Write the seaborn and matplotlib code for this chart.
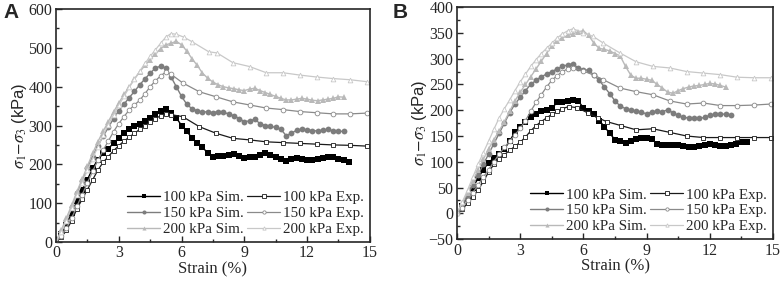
import matplotlib
matplotlib.use("Agg")
import matplotlib.pyplot as plt
from matplotlib.ticker import MultipleLocator
import seaborn as sns

# ---- panel A data (strain %, deviator stress kPa) ----
A_SIM_X = [0, 0.25, 0.5, 0.75, 1, 1.25, 1.5, 1.75, 2, 2.25, 2.5, 2.75, 3, 3.25, 3.5, 3.75,
           4, 4.25, 4.5, 4.75, 5, 5.25, 5.5, 5.75, 6, 6.25, 6.5, 6.75, 7, 7.25, 7.5, 7.75,
           8, 8.25, 8.5, 8.75, 9, 9.25, 9.5, 9.75, 10, 10.25, 10.5, 10.75, 11, 11.25, 11.5,
           11.75, 12, 12.25, 12.5, 12.75, 13, 13.25, 13.5, 13.75, 14]
A_SIM100 = [0, 20, 45, 75, 105, 135, 160, 190, 212, 228, 240, 255, 268, 282, 290, 298,
            305, 312, 320, 330, 338, 342, 333, 320, 300, 285, 268, 255, 245, 228, 220, 222,
            221, 223, 226, 222, 217, 220, 218, 224, 228, 225, 220, 214, 209, 213, 216,
            213, 210, 211, 213, 216, 219, 218, 214, 212, 207]
A_SIM150 = [0, 25, 55, 90, 125, 158, 190, 220, 248, 272, 295, 318, 338, 355, 372, 388,
            405, 420, 435, 448, 453, 448, 425, 400, 375, 355, 343, 338, 334, 336, 333, 336,
            334, 330, 325, 318, 310, 312, 316, 305, 300, 298, 295, 290, 274, 280, 288,
            290, 289, 287, 286, 288, 290, 286, 285, 285]
A_SIM200 = [0, 30, 62, 95, 130, 162, 195, 228, 258, 285, 310, 335, 358, 380, 400, 420,
            438, 455, 470, 485, 498, 508, 512, 517, 508, 492, 472, 455, 435, 422, 412, 405,
            400, 397, 395, 392, 390, 394, 396, 390, 385, 380, 375, 370, 366, 366, 368,
            370, 368, 365, 364, 366, 368, 370, 374, 373]

A_EXP100_X = [0, 0.25, 0.5, 0.75, 1, 1.25, 1.5, 1.75, 2, 2.25, 2.5, 2.75, 3, 3.25, 3.5, 3.75,
              4, 4.25, 4.5, 4.75, 5, 5.25, 5.5, 6.05, 6.85, 7.65, 8.45, 9.25, 10.05, 10.85,
              11.65, 12.45, 13.25, 14.05, 14.85]
A_EXP100 = [0, 12, 30, 55, 85, 110, 135, 160, 185, 205, 220, 235, 248, 260, 270, 280,
            290, 300, 310, 318, 325, 330, 328, 323, 297, 280, 267, 263, 258, 256,
            254, 252, 250, 249, 247]
A_EXP150_X = [0, 0.25, 0.5, 0.75, 1, 1.25, 1.5, 1.75, 2, 2.25, 2.5, 2.75, 3, 3.25, 3.5, 3.75,
              4, 4.25, 4.5, 4.75, 5, 5.25, 5.5, 6.05, 6.85, 7.65, 8.45, 9.25, 10.05, 10.85,
              11.65, 12.45, 13.25, 14.05, 14.85]
A_EXP150 = [0, 15, 35, 62, 92, 122, 152, 182, 210, 236, 260, 284, 305, 323, 340, 353,
            365, 382, 400, 415, 428, 438, 432, 410, 387, 374, 361, 353, 345, 341,
            336, 333, 330, 330, 332]
A_EXP200_X = [0, 0.25, 0.5, 0.75, 1, 1.25, 1.5, 1.75, 2, 2.25, 2.5, 2.75, 3, 3.25, 3.5, 3.75,
              4, 4.25, 4.5, 4.75, 5, 5.25, 5.5, 5.75, 6.1, 6.5, 7.3, 7.7, 8.45, 9.25, 10.05,
              10.85, 11.65, 12.45, 13.25, 14.05, 14.85]
A_EXP200 = [0, 25, 55, 88, 120, 152, 185, 215, 245, 275, 302, 328, 352, 375, 398, 420,
            440, 460, 478, 495, 512, 528, 537, 535, 528, 516, 490, 487, 462, 452, 436,
            436, 430, 425, 421, 418, 413]

# ---- panel B data ----
B_SIM100_X = A_SIM_X[:-1]
B_SIM100 = [0, 15, 32, 50, 68, 85, 98, 108, 115, 125, 140, 158, 168, 178, 186, 192,
            198, 200, 204, 215, 216, 217, 219, 218, 205, 198, 192, 180, 168, 155, 143, 140,
            136, 140, 145, 147, 147, 144, 135, 133, 133, 133, 132, 130, 128, 129, 130,
            133, 134, 133, 131, 131, 132, 135, 138, 139]
B_SIM150_X = A_SIM_X[:53]
B_SIM150 = [0, 15, 35, 55, 75, 95, 115, 135, 155, 175, 195, 212, 225, 238, 250, 258,
            265, 270, 275, 280, 285, 288, 290, 282, 278, 278, 268, 258, 245, 232, 218, 208,
            203, 200, 198, 196, 193, 197, 198, 197, 201, 195, 190, 186, 185, 184, 184,
            186, 190, 192, 193, 192, 191]
B_SIM200_X = A_SIM_X[:52]
B_SIM200 = [0, 20, 40, 62, 85, 105, 125, 143, 160, 178, 198, 218, 235, 250, 265, 280,
            295, 310, 325, 335, 340, 345, 348, 352, 354, 345, 330, 320, 318, 315, 310, 305,
            285, 268, 262, 262, 260, 258, 250, 243, 235, 233, 238, 242, 245, 247, 248,
            250, 252, 251, 248, 245]

B_EXP100_X = [0, 0.25, 0.5, 0.75, 1, 1.25, 1.5, 1.75, 2, 2.25, 2.5, 2.75, 3, 3.25, 3.5, 3.75,
              4, 4.25, 4.5, 4.75, 5, 5.3, 5.7, 6.2, 6.7, 7.1, 7.8, 8.5, 9.3, 10.1, 10.9,
              11.7, 12.5, 13.3, 14.1, 14.9]
B_EXP100 = [0, 8, 20, 32, 45, 62, 80, 95, 105, 114, 122, 130, 138, 148, 160, 170,
            178, 185, 192, 198, 203, 207, 205, 195, 185, 178, 170, 162, 164, 157, 150,
            147, 147, 147, 147, 147]
B_EXP150_X = [0, 0.25, 0.5, 0.75, 1, 1.25, 1.5, 1.75, 2, 2.25, 2.5, 2.75, 3, 3.25, 3.5, 3.75,
              4, 4.25, 4.5, 4.75, 5, 5.25, 5.5, 6.0, 6.5, 6.95, 7.74, 8.5, 9.3, 10.1, 10.9,
              11.7, 12.5, 13.3, 14.1, 14.9]
B_EXP150 = [0, 10, 25, 40, 55, 70, 85, 100, 115, 128, 140, 152, 165, 180, 198, 215,
            230, 245, 258, 267, 275, 280, 282, 276, 268, 259, 243, 236, 230, 218, 212,
            214, 209, 209, 210, 212]
B_EXP200_X = [0, 0.25, 0.5, 0.75, 1, 1.25, 1.5, 1.75, 2, 2.25, 2.5, 2.75, 3, 3.25, 3.5, 3.75,
              4, 4.25, 4.5, 4.75, 5, 5.25, 5.5, 6.0, 6.47, 6.95, 7.74, 8.5, 9.3, 10.1, 10.9,
              11.7, 12.5, 13.3, 14.1, 14.9]
B_EXP200 = [0, 22, 45, 70, 95, 118, 140, 163, 185, 203, 220, 238, 255, 270, 285, 298,
            310, 320, 330, 340, 348, 354, 358, 350, 343, 330, 311, 294, 285, 282, 275,
            272, 269, 264, 263, 263]

COLORS = {"100": "#000000", "150": "#7d7d7d", "200": "#b9b9b9"}
EXP_LINE = {"100": "#1a1a1a", "150": "#8a8a8a", "200": "#c8c8c8"}
SIM_MARK = {"100": "s", "150": "o", "200": "^"}
EXP_MARK = {"100": "s", "150": "o", "200": "^"}

sns.set_style("ticks")
plt.rcParams["font.family"] = ["Liberation Serif", "DejaVu Serif"]
plt.rcParams["mathtext.fontset"] = "stix"
plt.rcParams["axes.linewidth"] = 1.2


def draw(ax, sims, exps, ylim, ymajor, yminor):
    for key, (x, y) in sims.items():
        sns.lineplot(x=x, y=y, ax=ax, sort=False, estimator=None, color=COLORS[key],
                     lw=1.0, marker=SIM_MARK[key], markersize=4.2, markeredgewidth=0,
                     label=f"{key} kPa Sim.")
    for key, (x, y) in exps.items():
        sns.lineplot(x=x, y=y, ax=ax, sort=False, estimator=None, color=EXP_LINE[key],
                     lw=0.9, marker=EXP_MARK[key], markersize=3.4, markerfacecolor="white",
                     markeredgecolor=EXP_LINE[key], markeredgewidth=0.6,
                     label=f"{key} kPa Exp.")
    ax.set_xlim(0, 15)
    ax.set_ylim(*ylim)
    ax.xaxis.set_major_locator(MultipleLocator(3))
    ax.xaxis.set_minor_locator(MultipleLocator(1.5))
    ax.yaxis.set_major_locator(MultipleLocator(ymajor))
    ax.yaxis.set_minor_locator(MultipleLocator(yminor))
    ax.tick_params(which="both", direction="in", labelsize=11.5, pad=2.5)
    ax.tick_params(which="major", length=4, width=1)
    ax.tick_params(which="minor", length=2.5, width=1)
    ax.set_xlabel("Strain (%)", fontsize=12, labelpad=0)
    ax.set_ylabel(r"$\sigma_1$$-$$\sigma_3$ (kPa)", fontsize=12, labelpad=0,
                  family=["Liberation Sans", "DejaVu Sans"])
    for s in ax.spines.values():
        s.set_visible(True)
    ax.legend(loc="lower right", ncol=2, frameon=False, fontsize=10.8,
              handlelength=2.2, handletextpad=0.2, columnspacing=0.2,
              labelspacing=0.15, borderaxespad=0.1, markerscale=0.7,
              borderpad=0.3)


fig = plt.figure(figsize=(7.82, 2.84), dpi=100)
axA = fig.add_axes([0.0716, 0.148, 0.4014, 0.820])
axB = fig.add_axes([0.5844, 0.158, 0.4041, 0.817])

draw(axA,
     {"100": (A_SIM_X, A_SIM100), "150": (A_SIM_X[:-1], A_SIM150), "200": (A_SIM_X[:-1], A_SIM200)},
     {"100": (A_EXP100_X, A_EXP100), "150": (A_EXP150_X, A_EXP150), "200": (A_EXP200_X, A_EXP200)},
     (0, 600), 100, 50)
draw(axB,
     {"100": (B_SIM100_X, B_SIM100), "150": (B_SIM150_X, B_SIM150), "200": (B_SIM200_X, B_SIM200)},
     {"100": (B_EXP100_X, B_EXP100), "150": (B_EXP150_X, B_EXP150), "200": (B_EXP200_X, B_EXP200)},
     (-50, 400), 50, 25)

fig.text(0.004, 0.99, "A", fontsize=15, fontweight="bold", family="Liberation Sans", va="top")
fig.text(0.502, 0.99, "B", fontsize=15, fontweight="bold", family="Liberation Sans", va="top")

fig.savefig("out.png", dpi=100)
